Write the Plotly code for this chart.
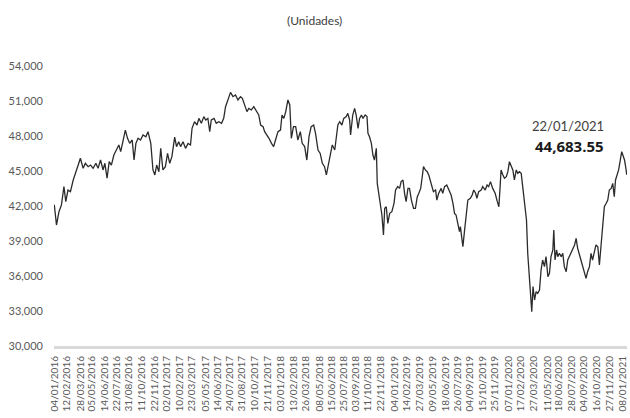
import plotly.graph_objects as go

# --- Data ---
dates = [
    "2016-01-04","2016-01-11","2016-01-19","2016-01-27","2016-02-04","2016-02-10","2016-02-17","2016-02-25",
    "2016-03-05","2016-03-13","2016-03-21","2016-03-28","2016-04-06","2016-04-13","2016-04-22","2016-04-30",
    "2016-05-08","2016-05-17","2016-05-24","2016-06-01","2016-06-09","2016-06-15","2016-06-22","2016-06-29",
    "2016-07-06","2016-07-14","2016-07-22","2016-07-30","2016-08-05","2016-08-13","2016-08-20","2016-08-27",
    "2016-09-03","2016-09-11","2016-09-17","2016-09-23","2016-09-30","2016-10-08","2016-10-16","2016-10-25",
    "2016-11-01","2016-11-10","2016-11-17","2016-11-23","2016-11-29","2016-12-06","2016-12-12","2016-12-19",
    "2016-12-27",
    "2017-01-03","2017-01-10","2017-01-17","2017-01-26","2017-02-01","2017-02-08","2017-02-14","2017-02-22",
    "2017-03-02","2017-03-10","2017-03-18","2017-03-23","2017-03-31","2017-04-08","2017-04-14","2017-04-22",
    "2017-04-30","2017-05-06","2017-05-13","2017-05-19","2017-05-24","2017-06-02","2017-06-09","2017-06-17",
    "2017-06-26","2017-07-03","2017-07-09","2017-07-17","2017-07-25","2017-08-02","2017-08-10","2017-08-18",
    "2017-08-26","2017-09-01","2017-09-09","2017-09-16","2017-09-22","2017-09-30","2017-10-08","2017-10-16",
    "2017-10-24","2017-10-30","2017-11-07","2017-11-12","2017-11-19","2017-11-26","2017-12-04","2017-12-11",
    "2017-12-17","2017-12-25",
    "2018-01-02","2018-01-07","2018-01-13","2018-01-19","2018-01-26","2018-02-01","2018-02-06","2018-02-13",
    "2018-02-20","2018-02-27","2018-03-07","2018-03-13","2018-03-21","2018-03-28","2018-04-04","2018-04-11",
    "2018-04-19","2018-04-25","2018-05-03","2018-05-10","2018-05-17","2018-05-24","2018-05-30","2018-06-04",
    "2018-06-12","2018-06-18","2018-06-26","2018-07-01","2018-07-06","2018-07-12","2018-07-19","2018-07-25",
    "2018-08-02","2018-08-07","2018-08-13","2018-08-16","2018-08-23","2018-08-29","2018-09-03","2018-09-09",
    "2018-09-14","2018-09-20","2018-09-25","2018-10-02","2018-10-08","2018-10-11","2018-10-16","2018-10-22",
    "2018-10-27","2018-11-01","2018-11-07","2018-11-10","2018-11-15","2018-11-20","2018-11-25","2018-11-30",
    "2018-12-04","2018-12-09","2018-12-14","2018-12-20","2018-12-27",
    "2019-01-03","2019-01-08","2019-01-15","2019-01-21","2019-01-26","2019-02-01","2019-02-06","2019-02-11",
    "2019-02-17","2019-02-22","2019-02-28","2019-03-07","2019-03-13","2019-03-19","2019-03-24","2019-03-30",
    "2019-04-04","2019-04-08","2019-04-14","2019-04-20","2019-04-25","2019-05-03","2019-05-10","2019-05-17",
    "2019-05-21","2019-05-27","2019-06-04","2019-06-09","2019-06-15","2019-06-22","2019-06-29","2019-07-06",
    "2019-07-12","2019-07-17","2019-07-22","2019-07-28","2019-08-02","2019-08-05","2019-08-09","2019-08-13",
    "2019-08-18","2019-08-24","2019-08-29","2019-09-06","2019-09-12","2019-09-17","2019-09-23","2019-09-27",
    "2019-10-03","2019-10-11","2019-10-16","2019-10-24","2019-10-30","2019-11-04","2019-11-10","2019-11-17",
    "2019-11-25","2019-12-02","2019-12-07","2019-12-11","2019-12-14","2019-12-20","2019-12-25","2019-12-31",
    "2020-01-05","2020-01-10","2020-01-16","2020-01-21","2020-01-26","2020-02-01","2020-02-06","2020-02-11",
    "2020-02-17","2020-02-22","2020-02-27","2020-03-05","2020-03-09","2020-03-15","2020-03-20","2020-03-22",
    "2020-03-26","2020-03-31","2020-04-05","2020-04-10","2020-04-16","2020-04-21","2020-04-26","2020-05-02",
    "2020-05-07","2020-05-13","2020-05-18","2020-05-23","2020-05-29","2020-06-01","2020-06-05","2020-06-10",
    "2020-06-14","2020-06-19","2020-06-25","2020-06-30","2020-07-05","2020-07-11","2020-07-16","2020-07-21",
    "2020-07-27","2020-08-01","2020-08-07","2020-08-12","2020-08-17","2020-08-23","2020-08-28","2020-09-02",
    "2020-09-08","2020-09-13","2020-09-18","2020-09-24","2020-09-29","2020-10-04","2020-10-10","2020-10-15",
    "2020-10-21","2020-10-26","2020-10-31","2020-11-06","2020-11-11","2020-11-17","2020-11-22","2020-11-27",
    "2020-12-03","2020-12-08","2020-12-13","2020-12-17","2020-12-22","2020-12-27",
    "2021-01-06","2021-01-11","2021-01-15","2021-01-19","2021-01-22",
]

values = [
    42100,40370,41510,42090,43660,42370,43370,43230,
    44230,44800,45510,46090,45230,45660,45370,45510,
    45230,45660,45230,45940,45090,45660,44380,45800,
    45510,46370,46800,47230,46660,47660,48510,47800,
    47370,47660,45940,47370,47800,47660,48090,47940,
    48370,47370,45090,44660,45510,44940,46940,45090,
    45370,
    46510,45660,46230,47900,47090,47510,47090,47510,
    46940,47370,47230,48660,49230,48940,49510,49090,
    49660,49370,49510,48370,49370,49510,49090,49230,
    49090,49510,50510,51090,51740,51370,51510,51090,
    51370,51230,50510,50090,50370,50230,50510,50090,
    49800,48940,48800,48370,48090,47800,47370,47090,
    47660,48370,
    48510,49800,49510,50090,51090,50660,47800,48800,
    48800,47660,48370,47370,47090,45940,47940,48800,
    48940,48230,46800,46510,45660,45370,44660,45370,
    46230,47230,46800,47660,48940,49230,48940,49510,
    49660,49940,49370,48090,49800,50370,49800,48660,
    49510,49800,49510,49800,49660,48230,47940,47370,
    46370,45940,46940,43940,43090,42230,41230,39510,
    41800,41940,40510,41370,41510,
    42230,43370,43660,43510,44090,44230,43090,42370,
    43510,43510,42510,41800,41800,42800,43090,43510,
    44510,45370,45090,44940,44660,43800,43230,43370,
    42510,43090,43510,43090,43660,43800,43370,42940,
    42230,41370,41230,40370,39800,40230,39090,38510,
    39800,41090,42510,42660,42940,43370,43090,42660,
    43230,43370,43660,43370,43800,43660,44090,43510,
    43090,42370,41940,43660,45090,44660,44380,44510,
    44940,45800,45370,45090,44230,45090,44800,44940,
    44800,43660,42940,40800,37940,35660,33940,32940,
    35090,33940,34660,34510,34800,36510,37370,36800,
    37660,35940,36230,37660,38230,39940,37370,38230,
    37660,37940,37660,37940,36800,36370,37370,37660,
    37940,38230,38660,39230,38370,37800,37370,36940,
    36230,35800,36370,36800,37940,37370,38090,38660,
    38510,36940,38510,40800,41940,42230,42510,43370,
    43510,43940,42800,44230,44800,45090,
    46660,46230,45940,45300,44683.55,
]

tick_dates = [
    "2016-01-04","2016-02-12","2016-03-28","2016-05-05","2016-06-14","2016-07-22","2016-08-31","2016-10-11",
    "2016-11-22","2017-01-02","2017-02-10","2017-03-23","2017-05-05","2017-06-14","2017-07-24","2017-08-31",
    "2017-10-10","2017-11-21","2018-01-03","2018-02-13","2018-03-26","2018-05-08","2018-06-15","2018-07-25",
    "2018-09-03","2018-10-11","2018-11-22","2019-01-04","2019-02-14","2019-03-27","2019-05-09","2019-06-18",
    "2019-07-26","2019-09-04","2019-10-15","2019-11-25","2020-01-07","2020-02-17","2020-03-27","2020-05-11",
    "2020-06-18","2020-07-28","2020-09-04","2020-10-16","2020-11-27","2021-01-08",
]
tick_text = ["/".join(reversed(d.split("-"))) for d in tick_dates]

y_ticks = [30000, 33000, 36000, 39000, 42000, 45000, 48000, 51000, 54000]

title_text = "(Unidades)"
last_date_label = "22/01/2021"
last_value_label = "44,683.55"

FONT = "Lato, 'Open Sans', sans-serif"

fig = go.Figure()
fig.add_trace(go.Scatter(
    x=dates, y=values, mode="lines",
    line=dict(color="#2b2b2b", width=1.3),
    hoverinfo="skip", showlegend=False,
))

fig.add_annotation(x=dates[-1], y=values[-1], xref="x", yref="y",
                   text=last_date_label, showarrow=False,
                   xanchor="right", yanchor="bottom", xshift=-21, yshift=39,
                   font=dict(family=FONT, size=13, color="#404040"))
fig.add_annotation(x=dates[-1], y=values[-1], xref="x", yref="y",
                   text="<b>" + last_value_label + "</b>", showarrow=False,
                   xanchor="right", yanchor="bottom", xshift=-21, yshift=17,
                   font=dict(family="'Open Sans', sans-serif", size=15, color="#1a1a1a"))

fig.add_annotation(x=0.455, y=1.164, xref="paper", yref="paper",
                   text=title_text, showarrow=False,
                   xanchor="center", yanchor="middle",
                   font=dict(family=FONT, size=12, color="#404040"))

fig.update_layout(
    width=630, height=418,
    margin=dict(l=54, r=3, t=66, b=72, autoexpand=False),
    paper_bgcolor="white", plot_bgcolor="white",
    font=dict(family=FONT, color="#595959"),
    showlegend=False,
)
fig.update_xaxes(
    type="date", range=["2016-01-03", "2021-01-23"],
    tickvals=tick_dates, ticktext=tick_text, tickangle=-90,
    tickfont=dict(family=FONT, size=10, color="#595959"),
    showgrid=False, zeroline=False, ticks="",
    showline=True, linecolor="#d9d9d9", linewidth=3,
    ticklabelstandoff=3, automargin=False,
)
fig.update_yaxes(
    range=[30000, 54000], tickvals=y_ticks, tickformat=",",
    tickfont=dict(family=FONT, size=11, color="#595959"),
    showgrid=False, zeroline=False, ticks="", showline=False,
    ticklabelstandoff=10, automargin=False,
)

fig.write_html(
    "out.html",
    config={"displayModeBar": False},
    post_script="document.body.style.margin='0';document.body.style.overflow='hidden';",
)
